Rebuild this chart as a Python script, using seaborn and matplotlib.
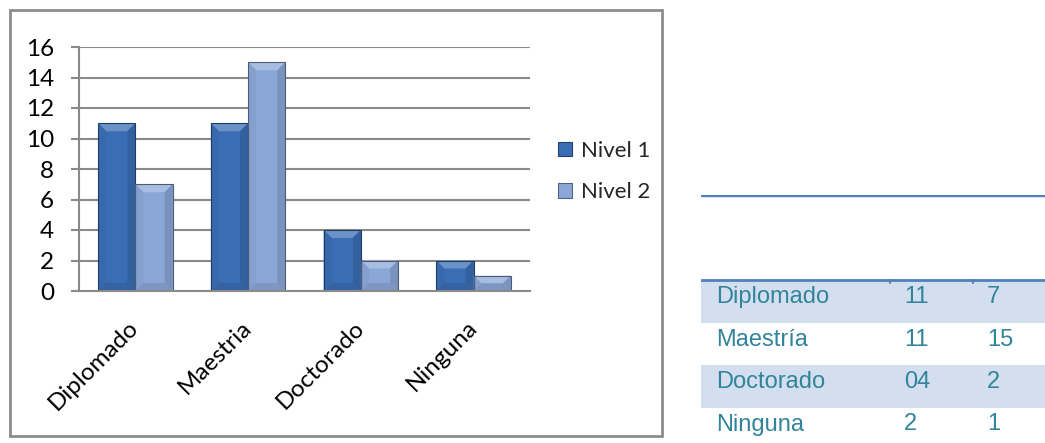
import matplotlib
matplotlib.use("Agg")
import matplotlib.pyplot as plt
import matplotlib.colors as mcolors
from matplotlib.patches import Rectangle, Polygon
import numpy as np
import pandas as pd
import seaborn as sns

# ---- data ----
categorias = ["Diplomado", "Maestria", "Doctorado", "Ninguna"]
series = ["Nivel 1", "Nivel 2"]
nivel_1 = [11, 11, 4, 2]
nivel_2 = [7, 15, 2, 1]
y_ticks = [0, 2, 4, 6, 8, 10, 12, 14, 16]

tabla_filas = ["Diplomado", "Maestría", "Doctorado", "Ninguna"]
tabla_col1 = ["11", "11", "04", "2"]
tabla_col2 = ["7", "15", "2", "1"]

colores = {"Nivel 1": "#3a6db4", "Nivel 2": "#8ba7d8"}

W, H = 1045, 443
sns.set_theme(style="white")
plt.rcParams["font.family"] = ["Lato", "DejaVu Sans"]

fig = plt.figure(figsize=(W / 100, H / 100), dpi=100)

# frame around the chart area
fig.patches.append(Rectangle((10 / W, 1 - 436 / H), 652 / W, 426 / H,
                             transform=fig.transFigure, fill=False,
                             edgecolor="#8c8c8c", linewidth=2))

ax = fig.add_axes([79 / W, 1 - 291 / H, 451 / W, 244 / H])

df = pd.DataFrame({
    "categoria": categorias * 2,
    "serie": [series[0]] * len(categorias) + [series[1]] * len(categorias),
    "valor": nivel_1 + nivel_2,
})
sns.barplot(data=df, x="categoria", y="valor", hue="serie", palette=colores,
            width=0.66, gap=0, saturation=1, ax=ax, legend=False,
            edgecolor="none", linewidth=0)

ax.set_xlim(-0.5, len(categorias) - 0.5)
ax.set_ylim(0, 16)
ax.set_yticks(y_ticks)
ax.set_yticklabels([str(v) for v in y_ticks], fontsize=17.5)
ax.set_xlabel("")
ax.set_ylabel("")

# gridlines and axis lines
grid_c = "#8a8a8a"
for v in y_ticks[1:]:
    ax.axhline(v, color=grid_c, linewidth=1.5, zorder=0.5)
for s in ["top", "right"]:
    ax.spines[s].set_visible(False)
for s in ["left", "bottom"]:
    ax.spines[s].set_color(grid_c)
    ax.spines[s].set_linewidth(1.5)

# category labels centred, boundary ticks between categories
ax.set_xticks(np.arange(len(categorias)))
ax.set_xticklabels(categorias, rotation=45, ha="right", va="center",
                   rotation_mode="anchor", fontsize=17.5)
ax.tick_params(axis="x", which="major", length=0, pad=24)
ax.set_xticks(np.arange(len(categorias) + 1) - 0.5, minor=True)
ax.tick_params(axis="x", which="minor", length=7, width=1.5, color=grid_c,
               direction="out")
ax.tick_params(axis="y", length=6, width=1.5, color=grid_c, direction="out",
               pad=12, left=True)
for lbl in ax.get_yticklabels() + ax.get_xticklabels():
    lbl.set_color("black")

# bevelled bar faces
bbox = ax.get_window_extent()
px_x = bbox.width / (ax.get_xlim()[1] - ax.get_xlim()[0])
px_y = bbox.height / (ax.get_ylim()[1] - ax.get_ylim()[0])


def shade(color, f):
    r, g, b = mcolors.to_rgb(color)
    if f >= 0:
        return (r + (1 - r) * f, g + (1 - g) * f, b + (1 - b) * f)
    return (r * (1 + f), g * (1 + f), b * (1 + f))


for bar in list(ax.patches):
    x0, y0 = bar.get_x(), bar.get_y()
    w, h = bar.get_width(), bar.get_height()
    if h <= 0:
        continue
    base = bar.get_facecolor()
    x1, y1 = x0 + w, y0 + h
    dx = 8 / px_x
    dy = min(8 / px_y, h / 2)
    faces = [
        ([(x0, y1), (x1, y1), (x1 - dx, y1 - dy), (x0 + dx, y1 - dy)], 0.25),
        ([(x0, y0), (x0, y1), (x0 + dx, y1 - dy), (x0 + dx, y0 + dy)], -0.04),
        ([(x1, y0), (x1, y1), (x1 - dx, y1 - dy), (x1 - dx, y0 + dy)], -0.12),
        ([(x0, y0), (x1, y0), (x1 - dx, y0 + dy), (x0 + dx, y0 + dy)], -0.1),
    ]
    for pts, f in faces:
        ax.add_patch(Polygon(pts, closed=True, facecolor=shade(base, f),
                             edgecolor="none", zorder=bar.get_zorder() + 0.1))
    ax.add_patch(Rectangle((x0, y0), w, h, fill=False,
                           edgecolor=shade(base, -0.45), linewidth=0.8,
                           zorder=bar.get_zorder() + 0.2))

# legend
handles = [Rectangle((0, 0), 1, 1, facecolor=colores[s],
                     edgecolor=shade(colores[s], -0.4), linewidth=0.8)
           for s in series]
fig.legend(handles, series, loc="upper left",
           bbox_to_anchor=(547 / W, 1 - 130 / H), frameon=False,
           fontsize=16, handlelength=0.62, handleheight=0.62,
           handletextpad=0.4, labelspacing=0.95, borderpad=0)

# side table
tax = fig.add_axes([701 / W, 0, 344 / W, (H - 195) / H])
pitch = 42.5
top = -(280 - 195) / pitch
tax.set_ylim(top + (H - 195) / pitch, top)
tax.set_xlim(0, 344)
tax.axis("off")
linea = "#4f81bd"
texto = "#31849b"
tax.axhline(top, color=linea, linewidth=2.5)
tax.axhline(0, color=linea, linewidth=2)
for i in range(len(tabla_filas)):
    if i % 2 == 0:
        tax.axhspan(i, i + 1, color="#d3dfee", linewidth=0, zorder=0)
    for xc, txt in ((15, tabla_filas[i]), (203, tabla_col1[i]),
                    (286, tabla_col2[i])):
        tax.text(xc, i + 0.4, txt, color=texto, fontsize=17,
                 family="Liberation Sans", va="center", ha="left")
for xc in (189, 272):
    tax.plot([xc, xc], [0, 0.08], color=linea, linewidth=1.5)

fig.savefig("out.png", dpi=100)
